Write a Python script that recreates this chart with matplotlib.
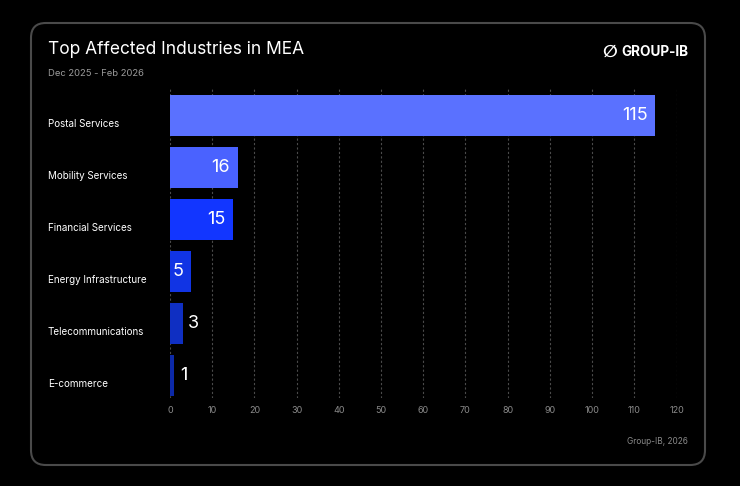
import matplotlib.pyplot as plt
import matplotlib.transforms as mtransforms
from matplotlib.patches import FancyBboxPatch

plt.rcParams['font.family'] = ['Inter', 'DejaVu Sans']

# data
industries = ['Postal Services', 'Mobility Services', 'Financial Services',
              'Energy Infrastructure', 'Telecommunications', 'E-commerce']
counts = [115, 16, 15, 5, 3, 1]
bar_colors = ['#5A71FF', '#4A62FF', '#1236FF', '#1134E4', '#0F2FC2', '#0C29A8']
xticks = list(range(0, 121, 10))

W, H = 740, 486
fig = plt.figure(figsize=(W / 100, H / 100), dpi=100)
fig.patch.set_facecolor('black')

# rounded card (behind the axes)
card = FancyBboxPatch((31 / W, 1 - 465 / H), (705 - 31) / W, (465 - 23) / H,
                      boxstyle='round,pad=0,rounding_size=0.02',
                      transform=fig.transFigure, facecolor='black',
                      edgecolor='#4a4a4a', linewidth=1.5, mutation_aspect=W / H,
                      zorder=-10)
fig.patches.append(card)

ax = fig.add_axes([170 / W, 1 - 398 / H, (676.5 - 170) / W, (398 - 88) / H])
ax.set_facecolor('none')
ax.set_zorder(1)

ypos = list(range(len(industries)))
ax.barh(ypos, counts, height=0.79, color=bar_colors, zorder=3)
ax.set_xlim(0, 120)
ax.set_ylim(5.44, -0.52)

ax.set_xticks(xticks)
ax.tick_params(axis='x', length=0, labelsize=6.5, labelcolor='#8a8a8a', pad=6)
ax.set_yticks([])
for s in ax.spines.values():
    s.set_visible(False)
ax.grid(axis='x', color='#4a4a4a', linestyle=(0, (2, 2)), linewidth=0.8, zorder=0)

# category labels, left aligned at the card margin
trans = mtransforms.blended_transform_factory(fig.transFigure, ax.transData)
for y, name in zip(ypos, industries):
    ax.text(48 / W, y + 0.18, name, transform=trans, ha='left', va='center',
            color='white', fontsize=7.1)

# value labels
for y, v in zip(ypos, counts):
    if v >= 5:
        ax.annotate(str(v), (v, y), xytext=(-5.5, 0), textcoords='offset points',
                    ha='right', va='center', color='white', fontsize=13)
    else:
        ax.annotate(str(v), (v, y), xytext=(4, 0), textcoords='offset points',
                    ha='left', va='center', color='white', fontsize=13)

fig.text(48 / W, 1 - 50 / H, 'Top Affected Industries in MEA', color='white',
         fontsize=12.5, ha='left', va='center')
fig.text(48 / W, 1 - 73 / H, 'Dec 2025 - Feb 2026', color='#9a9a9a',
         fontsize=6.8, ha='left', va='center')

# logo
fig.text(688 / W, 1 - 52 / H, 'GROUP-IB', color='white', fontsize=9.8,
         fontweight='bold', ha='right', va='center')
fig.text(617 / W, 1 - 52 / H, '\u2205', color='white', fontsize=12.5,
         fontweight='bold', ha='right', va='center', family='DejaVu Sans')

fig.text(688 / W, 1 - 441 / H, 'Group-IB, 2026', color='#8a8a8a',
         fontsize=6, ha='right', va='center')

fig.savefig('out.png', dpi=100, facecolor='black')
